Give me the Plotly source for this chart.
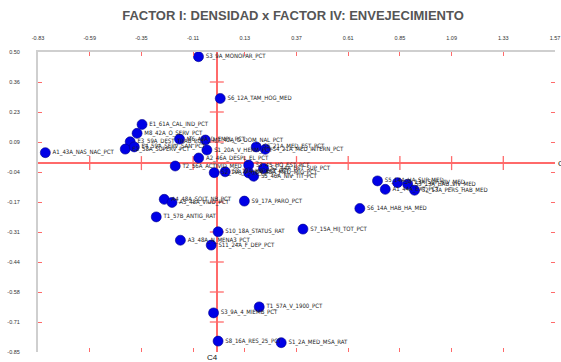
import plotly.graph_objects as go

title_text = "FACTOR I: DENSIDAD x FACTOR IV: ENVEJECIMIENTO"

x_tick_vals = [-0.83, -0.59, -0.35, -0.11, 0.13, 0.37, 0.61, 0.85, 1.09, 1.33, 1.57]
x_tick_text = ["-0.83", "-0.59", "-0.35", "-0.11", "0.13", "0.37", "0.61", "0.85", "1.09", "1.33", "1.57"]
y_tick_vals = [0.50, 0.365, 0.23, 0.095, -0.04, -0.175, -0.31, -0.445, -0.58, -0.715, -0.85]
y_tick_text = ["0.50", "0.36", "0.23", "0.09", "-0.04", "-0.17", "-0.31", "-0.44", "-0.58", "-0.71", "-0.85"]

labels = [
    "S3_9A_MONOPAR_PCT", "S6_12A_TAM_HOG_MED", "E1_61A_CAL_IND_PCT", "M8_42A_O_SERV_PCT",
    "E3_59A_DEST_TRAB_PCT", "E2_58A_SUPERV_PCT", "E4_59A_SERV_SAN_PCT", "A1_43A_NAS_NAC_PCT",
    "M6_42A_D_EMPL_PCT", "M7_42A_O_DOM_NAL_PCT", "S1_20A_V_HERM_PCT", "S5_21A_MED_EST_PCT",
    "S4_21A_MED_INTERN_PCT", "A2_46A_DESPL_EL_PCT", "T2_56A_ACTIVID_MED", "S2_19A_V_HIJ_PCT",
    "S3_19A_HO_EST_PCT", "S3_45_HO_EST_PCT", "S2_44A_EST_SUP_PCT", "S4_45A_MED_MIG_PCT",
    "S5_46A_NIV_TIT_PCT", "A4_48A_SOLT_NB_PCT", "A5_48A_VIUD_PCT", "T1_57B_ANTIG_RAT",
    "A3_48A_N_MENA3_PCT", "S9_17A_PARO_PCT", "S6_14A_HAB_HA_MED", "S7_15A_HIJ_TOT_PCT",
    "S10_18A_STATUS_RAT", "S11_24A_F_DEP_PCT", "S5_14A_HA_SUP_MED", "S4_13A_SUP_VIV_MED",
    "S3_13A_HAB_VIV_MED", "A1_44A_EXT_PCT", "S2_13A_PERS_HAB_MED", "T1_57A_V_1900_PCT",
    "S3_9A_4_MIEMB_PCT", "S8_16A_RES_25_PCT", "S1_2A_MED_MSA_RAT",
]
x_vals = [
    -0.085, 0.016, -0.347, -0.370,
    -0.402, -0.425, -0.383, -0.796,
    -0.173, -0.053, -0.046, 0.183,
    0.225, -0.084, -0.193, -0.012,
    0.039, 0.148, 0.217, 0.148,
    0.171, -0.244, -0.208, -0.281,
    -0.169, 0.128, 0.664, 0.400,
    0.006, -0.026, 0.746, 0.839,
    0.886, 0.782, 0.918, 0.197,
    -0.015, 0.006, 0.299,
]
y_vals = [
    0.479, 0.291, 0.174, 0.134,
    0.096, 0.063, 0.073, 0.047,
    0.108, 0.104, 0.059, 0.073,
    0.062, 0.023, -0.013, -0.043,
    -0.039, -0.009, -0.024, -0.044,
    -0.059, -0.163, -0.177, -0.242,
    -0.347, -0.171, -0.204, -0.297,
    -0.309, -0.369, -0.080, -0.088,
    -0.095, -0.118, -0.122, -0.647,
    -0.674, -0.801, -0.808,
]

RED = "#ff6a6a"
x_min, x_max = x_tick_vals[0], x_tick_vals[-1]
y_min, y_max = y_tick_vals[-1], y_tick_vals[0]

fig = go.Figure()

# cross ticks on the zero lines
fig.add_trace(go.Scatter(
    x=x_tick_vals[1:-1], y=[0] * (len(x_tick_vals) - 2), mode="markers",
    marker=dict(symbol="line-ns", size=10, line=dict(color=RED, width=1.3)),
    hoverinfo="skip", showlegend=False, cliponaxis=False))
fig.add_trace(go.Scatter(
    x=[0] * (len(y_tick_vals) - 2), y=y_tick_vals[1:-1], mode="markers",
    marker=dict(symbol="line-ew", size=10, line=dict(color=RED, width=1.3)),
    hoverinfo="skip", showlegend=False, cliponaxis=False))

fig.add_trace(go.Scatter(
    x=x_vals, y=y_vals, text=labels, mode="markers+text",
    textposition="middle right",
    textfont=dict(family="Liberation Sans Narrow, DejaVu Sans Condensed, Liberation Sans",
                  size=6, color="#222222"),
    marker=dict(size=10, color="#0000e6", line=dict(color="#00008b", width=0.6)),
    showlegend=False, cliponaxis=False))

fig.add_trace(go.Scatter(x=[x_min], y=[y_min], xaxis="x2", yaxis="y2", mode="markers",
                         marker=dict(size=0.1, opacity=0), hoverinfo="skip", showlegend=False))

tick_font = dict(family="Liberation Sans, Arial", size=5.5, color="#333333")

fig.update_layout(
    width=561, height=362,
    margin=dict(l=38, r=6, t=52, b=10),
    paper_bgcolor="white", plot_bgcolor="white",
    title=dict(text=title_text, x=293 / 561, xanchor="center", y=1 - 15 / 362, yanchor="middle",
               xref="container", yref="container",
               font=dict(family="Liberation Sans, Arial", size=13, color="#555555", weight="bold")),
    xaxis=dict(range=[x_min, x_max], side="top", tickvals=x_tick_vals, ticktext=x_tick_text,
               ticks="inside", ticklen=4, tickwidth=1.3, tickcolor=RED,
               showline=True, linecolor="#cfcfcf", linewidth=2,
               zeroline=True, zerolinecolor=RED, zerolinewidth=1.5, automargin=False,
               showgrid=False, tickfont=tick_font, ticklabelstandoff=8),
    yaxis=dict(range=[y_min, y_max], tickvals=y_tick_vals, ticktext=y_tick_text,
               ticks="inside", ticklen=4, tickwidth=1.3, tickcolor=RED,
               showline=True, linecolor="#cfcfcf", linewidth=2,
               zeroline=True, zerolinecolor=RED, zerolinewidth=1.5, automargin=False,
               showgrid=False, tickfont=tick_font, ticklabelstandoff=15),
    xaxis2=dict(range=[x_min, x_max], overlaying="x", side="bottom", anchor="y2",
                tickvals=x_tick_vals, ticks="inside", ticklen=4, tickwidth=1.3, tickcolor=RED,
                showticklabels=False, showline=False, zeroline=False, showgrid=False,
                automargin=False),
    yaxis2=dict(range=[y_min, y_max], overlaying="y", side="right", anchor="x2",
                tickvals=y_tick_vals, ticks="inside", ticklen=4, tickwidth=1.3, tickcolor=RED,
                showticklabels=False, showline=False, zeroline=False, showgrid=False,
                automargin=False),
    annotations=[
        dict(x=x_max, y=0, xref="x", yref="y", text="C1", showarrow=False, xanchor="left",
             xshift=1, font=dict(family="Liberation Sans, Arial", size=8, color="#111111")),
        dict(x=0, y=y_min, xref="x", yref="y", text="C4", showarrow=False, xanchor="center",
             yanchor="top", xshift=-4, yshift=1,
             font=dict(family="Liberation Sans, Arial", size=8, color="#111111")),
    ],
)

fig.write_html(
    "out.html",
    config={"displayModeBar": False},
    post_script="document.body.style.margin='0';document.body.style.overflow='hidden';",
)
